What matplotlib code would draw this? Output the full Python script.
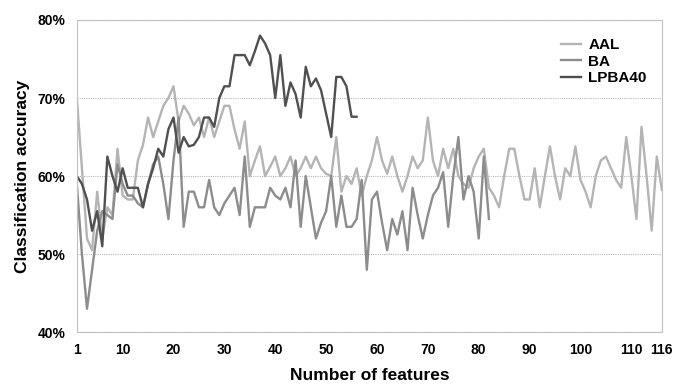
import matplotlib
matplotlib.use("Agg")
import matplotlib.pyplot as plt
from matplotlib.ticker import FuncFormatter

# classification accuracy (%) per number of features
aal = [70, 61, 52, 50.5, 58, 52, 56, 55, 63.5, 57.5,
       57, 57, 62, 64, 67.5, 65, 67, 69, 70, 71.5,
       67, 69, 68, 66.5, 67.5, 65, 67.5, 65, 67, 69,
       69, 66, 63.5, 67, 60, 62, 63.8, 60, 61.2, 62.5,
       60, 61, 62.5, 60, 61, 62.5, 61, 62.5, 61, 60.3,
       60, 65, 58, 60, 59, 61, 57.5, 60, 62, 65,
       62, 60.3, 62.5, 60, 58, 60, 62.5, 61, 62, 67.5,
       62, 60, 63.5, 61, 63.5, 60, 59, 58.5, 61, 62.5,
       63.5, 58.5, 57.5, 56, 60, 63.5, 63.5, 60, 57, 57,
       61, 56, 60, 63.8, 60, 57, 61, 60, 63.8, 59.5,
       58, 56, 60, 62, 62.5, 61, 59.5, 58.5, 65, 60,
       54.5, 66.3, 60, 53, 62.5, 58.2]

ba = [59, 50, 43, 48, 53, 55.5, 55, 54.5, 61.5, 59,
      57.5, 57.5, 56.5, 56, 59, 61.5, 62.5, 59, 54.5, 62,
      67.5, 53.5, 58, 58, 56, 56, 59.5, 56, 55, 56.5,
      57.5, 58.5, 55, 62.5, 53.5, 56, 56, 56, 58.5, 57.5,
      57, 58.5, 56, 62, 53.5, 60, 56, 52, 54, 55.5,
      60, 53.5, 57.5, 53.5, 53.5, 54.5, 59.5, 48, 57, 58,
      54, 50.5, 54.5, 52.5, 55.5, 50.5, 58.5, 55, 52, 55,
      57.5, 58.5, 60.5, 53.5, 60, 65, 57, 60, 58, 52,
      62.5, 54.5]

lpba40 = [60, 59, 57, 53, 55.5, 51, 62.5, 60, 58, 61,
          58.5, 58.5, 58.5, 56, 59, 61, 63.5, 62.5, 66, 67.5,
          63, 65, 63.8, 64, 65, 67.5, 67.5, 66.3, 70, 71.5,
          71.5, 75.5, 75.5, 75.5, 74.2, 76, 78, 77, 75.5, 70,
          75.5, 69, 72, 70.5, 67.5, 74, 71.5, 72.5, 71, 68,
          65, 72.7, 72.7, 71.5, 67.6, 67.6]

xticks = [1, 10, 20, 30, 40, 50, 60, 70, 80, 90, 100, 110, 116]

plt.rcParams['font.family'] = ['Liberation Sans', 'DejaVu Sans']
plt.rcParams['font.weight'] = 'bold'

fig = plt.figure(figsize=(6.74, 3.84), dpi=100)
ax = fig.add_axes([0.114, 0.135, 0.868, 0.813])

ax.plot(range(1, len(aal) + 1), aal, color='#b4b4b4', linewidth=1.7, label='AAL')
ax.plot(range(1, len(ba) + 1), ba, color='#8c8c8c', linewidth=1.7, label='BA')
ax.plot(range(1, len(lpba40) + 1), lpba40, color='#505050', linewidth=1.7, label='LPBA40')

ax.set_xlim(1, 116)
ax.set_ylim(40, 80)
ax.set_xticks(xticks)
ax.set_yticks([40, 50, 60, 70, 80])
ax.yaxis.set_major_formatter(FuncFormatter(lambda v, p: '%d%%' % v))
ax.tick_params(axis='both', length=0, labelsize=10, pad=8)
for lab in ax.get_xticklabels() + ax.get_yticklabels():
    lab.set_fontweight('bold')

ax.grid(True, axis='y', color='#b8b8b8', linestyle=(0, (1, 1)), linewidth=0.8)
for s in ax.spines.values():
    s.set_color('#c0c0c0')
    s.set_linestyle((0, (1, 1)))
    s.set_linewidth(0.8)

ax.set_xlabel('Number of features', fontsize=12.5, fontweight='bold', labelpad=8)
ax.set_ylabel('Classification accuracy', fontsize=12.5, fontweight='bold', labelpad=6)

leg = ax.legend(loc='upper right', frameon=False, fontsize=11, handlelength=1.3,
                handletextpad=0.5, labelspacing=0.15, borderaxespad=0.6,
                bbox_to_anchor=(1.0, 0.99))
for t in leg.get_texts():
    t.set_fontweight('bold')

fig.savefig('out.png', dpi=100)
